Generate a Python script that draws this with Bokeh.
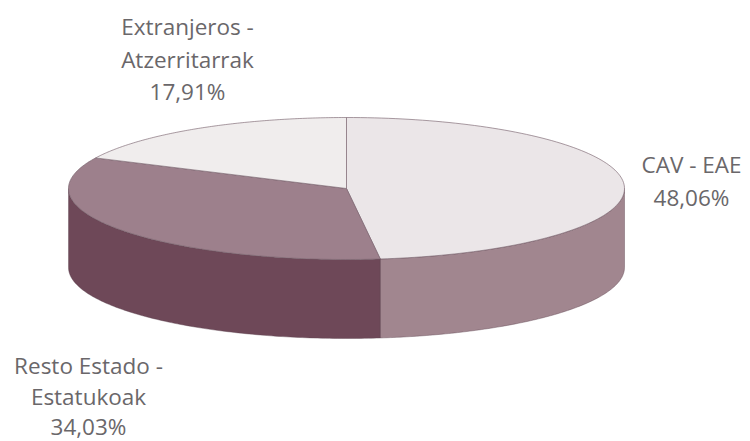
import math
from bokeh.plotting import figure
from bokeh.models import Range1d
from bokeh.core.properties import value
from bokeh.embed import file_html
from bokeh.resources import INLINE

categories = ["CAV - EAE", "Resto Estado - Estatukoak", "Extranjeros - Atzerritarrak"]
shares = [48.06, 34.03, 17.91]
label_lines = [["CAV - EAE", "48,06%"], ["Resto Estado -", "Estatukoak", "34,03%"], ["Extranjeros -", "Atzerritarrak", "17,91%"]]
label_pos = [(691, 164), (88, 365), (187, 26)]
label_step = [32.5, 30.5, 32.5]
top_colors = ["#ebe6e8", "#9d808c", "#f0eded"]
side_colors = ["#a1868f", "#6e4858", None]

CX, CY, A, B, DEPTH = 346, 188, 278, 71, 79

def pt(deg, dy=0):
    r = math.radians(deg)
    return CX + A * math.sin(r), CY - B * math.cos(r) + dy

def arc(a0, a1, dy=0, n=120):
    return [pt(a0 + (a1 - a0) * i / n, dy) for i in range(n + 1)]

p = figure(width=750, height=441, x_range=Range1d(0, 750), y_range=Range1d(441, 0),
           output_backend="svg", toolbar_location=None, min_border=0)
p.axis.visible = False
p.grid.visible = False
p.outline_line_color = None

start = 0.0
for share, top, side in zip(shares, top_colors, side_colors):
    end = start + share * 3.6
    if side:
        lo, hi = max(start, 90), min(end, 270)
        up = arc(lo, hi)
        down = arc(hi, lo, DEPTH)
        poly = up + down
        p.patch([q[0] for q in poly], [q[1] for q in poly], fill_color=side, line_color="#5d4450", line_width=0.7, line_alpha=0.6)
    poly = [(CX, CY)] + arc(start, end)
    p.patch([q[0] for q in poly], [q[1] for q in poly], fill_color=top, line_color="#77626c", line_width=0.9, line_alpha=0.7)
    start = end

for lines, (x, y), step in zip(label_lines, label_pos, label_step):
    for i, t in enumerate(lines):
        p.text([x], [y + i * step], text=[t], text_align="center", text_baseline="middle",
               text_font=value("Open Sans"), text_font_size="22.5px", text_color="#6a676a")

open("out.html", "w").write(file_html(p, INLINE))
